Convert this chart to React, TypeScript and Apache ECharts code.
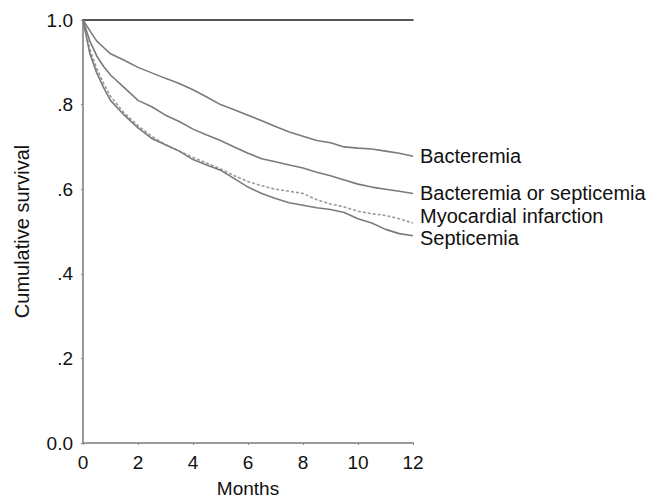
import React, { useEffect, useRef } from "react";
import * as echarts from "echarts";

const months = [0, 0.25, 0.5, 0.75, 1, 1.5, 2, 2.5, 3, 3.5, 4, 4.5, 5, 5.5, 6, 6.5, 7, 7.5, 8, 8.5, 9, 9.5, 10, 10.5, 11, 11.5, 12];
const bacteremia = [1, 0.975, 0.95, 0.935, 0.92, 0.905, 0.888, 0.875, 0.862, 0.85, 0.835, 0.818, 0.8, 0.788, 0.775, 0.762, 0.748, 0.735, 0.725, 0.715, 0.71, 0.7, 0.697, 0.695, 0.69, 0.685, 0.678];
const bactOrSept = [1, 0.95, 0.915, 0.89, 0.87, 0.84, 0.81, 0.795, 0.775, 0.76, 0.742, 0.728, 0.715, 0.7, 0.685, 0.672, 0.665, 0.657, 0.65, 0.64, 0.632, 0.622, 0.612, 0.605, 0.6, 0.595, 0.59];
const myocardial = [1, 0.93, 0.885, 0.85, 0.82, 0.78, 0.75, 0.725, 0.705, 0.69, 0.675, 0.662, 0.648, 0.632, 0.618, 0.608, 0.6, 0.595, 0.59, 0.575, 0.565, 0.558, 0.548, 0.542, 0.538, 0.53, 0.52];
const septicemia = [1, 0.92, 0.875, 0.84, 0.81, 0.775, 0.745, 0.72, 0.705, 0.69, 0.67, 0.657, 0.645, 0.625, 0.605, 0.59, 0.578, 0.568, 0.562, 0.556, 0.552, 0.545, 0.53, 0.52, 0.505, 0.495, 0.49];

const seriesNames = ["Bacteremia", "Bacteremia or septicemia", "Myocardial infarction", "Septicemia"];
const seriesValues = [bacteremia, bactOrSept, myocardial, septicemia];
const labelOffsets = [[0, 0], [0, 0], [0, -7], [0, 2]];

const FONT = "Liberation Sans, Arial, sans-serif";

export default function App() {
  const ref = useRef<HTMLDivElement>(null);
  useEffect(() => {
    document.body.style.margin = "0";
    const chart = echarts.init(ref.current!, null, { renderer: "svg" });
    chart.setOption({
      animation: false,
      backgroundColor: "#ffffff",
      grid: { left: 83, right: 234, top: 20, bottom: 59, containLabel: false, outerBoundsMode: "none" },
      xAxis: [
        {
          type: "value",
          min: 0,
          max: 12,
          interval: 2,
          name: "Months",
          nameLocation: "middle",
          nameGap: 36,
          nameTextStyle: { fontFamily: FONT, fontSize: 19, color: "#111" },
          axisLine: { show: true, lineStyle: { color: "#9a9a9a", width: 2 } },
          axisTick: { show: true, length: 2, lineStyle: { color: "#888" } },
          axisLabel: { fontFamily: FONT, fontSize: 19, color: "#111", margin: 10 },
          splitLine: { show: false },
        },
        {
          type: "value",
          position: "top",
          min: 0,
          max: 12,
          axisLine: { show: true, onZero: false, lineStyle: { color: "#222", width: 1.5 } },
          axisTick: { show: false },
          axisLabel: { show: false },
          splitLine: { show: false },
        },
      ],
      yAxis: {
        type: "value",
        min: 0,
        max: 1,
        interval: 0.2,
        name: "Cumulative survival",
        nameLocation: "middle",
        nameGap: 51,
        nameTextStyle: { fontFamily: FONT, fontSize: 20, color: "#111" },
        axisLine: { show: true, lineStyle: { color: "#9a9a9a", width: 2 } },
        axisTick: { show: true, length: 2, lineStyle: { color: "#888" } },
        axisLabel: {
          fontFamily: FONT,
          fontSize: 19,
          color: "#111",
          margin: 10,
          formatter: (v: number) => {
            if (v === 0) return "0.0";
            if (v === 1) return "1.0";
            return "." + Math.round(v * 10);
          },
        },
        splitLine: { show: false },
      },
      series: seriesNames.map((name, i) => ({
        name,
        type: "line",
        xAxisIndex: 0,
        showSymbol: false,
        symbol: "none",
        data: months.map((m, j) => [m, seriesValues[i][j]]),
        lineStyle: {
          color: i === 2 ? "#9a9a9a" : "#7a7a7a",
          width: 1.6,
          type: i === 2 ? [3, 2] : "solid",
        },
        endLabel: {
          show: true,
          formatter: name,
          distance: 7,
          offset: labelOffsets[i],
          fontFamily: FONT,
          fontSize: 20,
          color: "#111",
        },
      })),
    });
    return () => chart.dispose();
  }, []);
  return <div ref={ref} style={{ width: 647, height: 502 }} />;
}
